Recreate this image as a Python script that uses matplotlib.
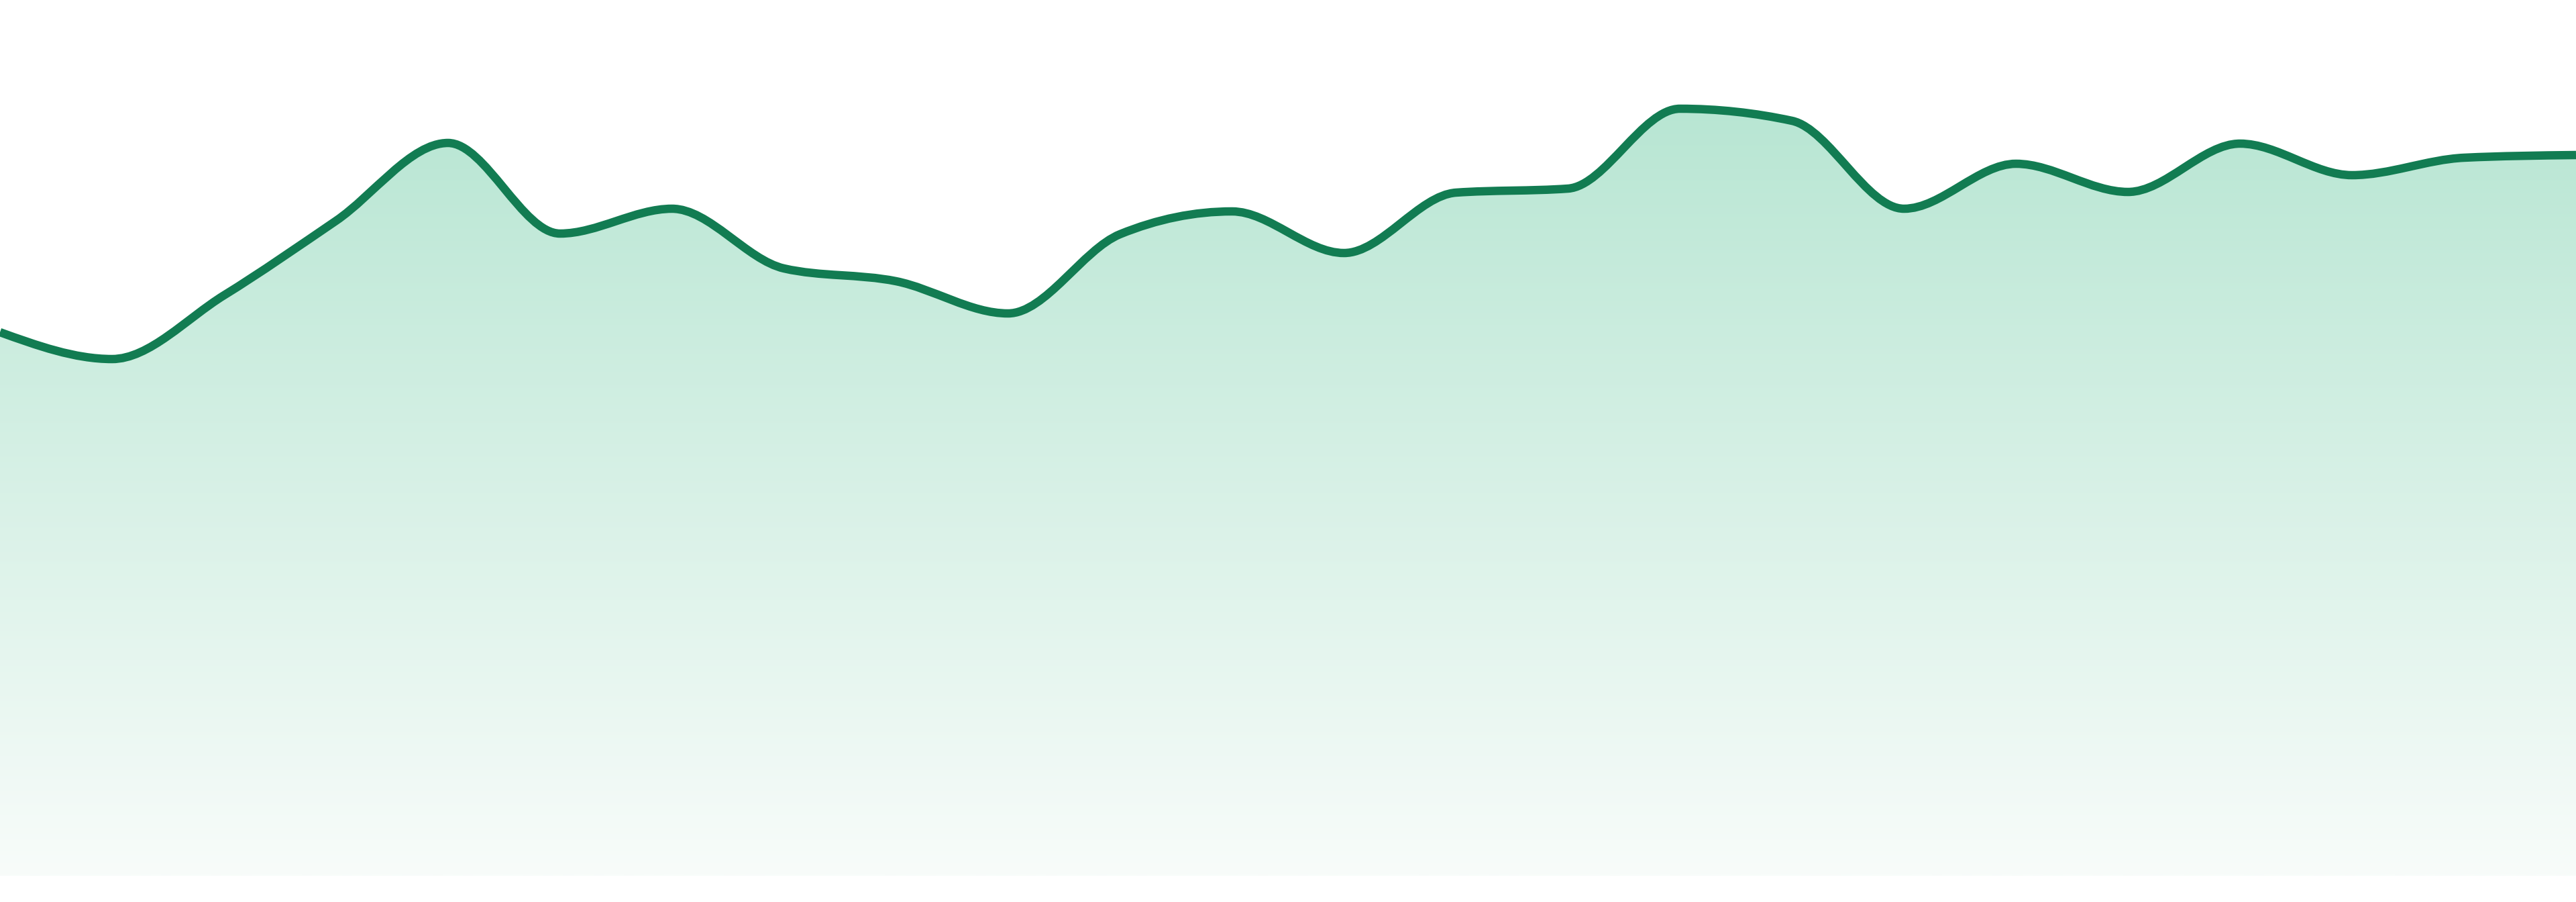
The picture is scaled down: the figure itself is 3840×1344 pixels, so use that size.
import numpy as np
import matplotlib
matplotlib.use('Agg')
import matplotlib.pyplot as plt
from matplotlib.path import Path
from matplotlib.patches import PathPatch
from matplotlib.colors import LinearSegmentedColormap

# Series values (24 evenly spaced points, no axes shown)
values = [81.0, 77.0, 86.5, 97.6, 109.2, 95.7, 99.4, 90.5, 88.6, 83.8,
          95.6, 99.0, 92.8, 101.8, 102.4, 114.3, 112.5, 99.4, 106.1, 101.9,
          109.1, 104.4, 107.0, 107.4]
x_idx = list(range(len(values)))

line_color = '#127c52'
fill_top = '#b8e6d3'
fill_bottom = '#f8fcfa'


# Monotone cubic curve (same idea as d3 curveMonotoneX) as bezier path pieces
def monotone_path(xs, ys):
    xs = np.asarray(xs, float)
    ys = np.asarray(ys, float)
    n = len(xs)
    h = np.diff(xs)
    s = np.diff(ys) / h
    t = np.zeros(n)
    for i in range(1, n - 1):
        p = (s[i - 1] * h[i] + s[i] * h[i - 1]) / (h[i - 1] + h[i])
        t[i] = (np.sign(s[i - 1]) + np.sign(s[i])) * min(abs(s[i - 1]), abs(s[i]), 0.5 * abs(p))
    t[0] = (3 * s[0] - t[1]) / 2
    t[-1] = (3 * s[-1] - t[-2]) / 2
    verts = [(xs[0], ys[0])]
    codes = [Path.MOVETO]
    for i in range(n - 1):
        dx = (xs[i + 1] - xs[i]) / 3
        verts += [(xs[i] + dx, ys[i] + dx * t[i]),
                  (xs[i + 1] - dx, ys[i + 1] - dx * t[i + 1]),
                  (xs[i + 1], ys[i + 1])]
        codes += [Path.CURVE4] * 3
    return verts, codes


fig = plt.figure(figsize=(38.4, 13.44), dpi=100)
ax = fig.add_axes([0, 39 / 1344, 1, 1305 / 1344])

verts, codes = monotone_path(x_idx, values)

# area under the curve, filled with a vertical gradient
area_verts = verts + [(x_idx[-1], 0), (x_idx[0], 0), (x_idx[0], 0)]
area_codes = codes + [Path.LINETO, Path.LINETO, Path.CLOSEPOLY]
area = PathPatch(Path(area_verts, area_codes), facecolor='none', edgecolor='none')
ax.add_patch(area)

cmap = LinearSegmentedColormap.from_list('area', [fill_bottom, fill_top])
grad = np.linspace(0, 1, 512).reshape(-1, 1)
im = ax.imshow(grad, extent=[x_idx[0], x_idx[-1], 0, max(values)], origin='lower',
               aspect='auto', cmap=cmap, interpolation='bilinear')
im.set_clip_path(area)

line = PathPatch(Path(verts, codes), facecolor='none', edgecolor=line_color,
                 linewidth=9, capstyle='butt', joinstyle='round')
ax.add_patch(line)

ax.set_xlim(x_idx[0], x_idx[-1])
ax.set_ylim(0, 130.5)
ax.axis('off')

fig.savefig('out.png', dpi=100, facecolor='white')
